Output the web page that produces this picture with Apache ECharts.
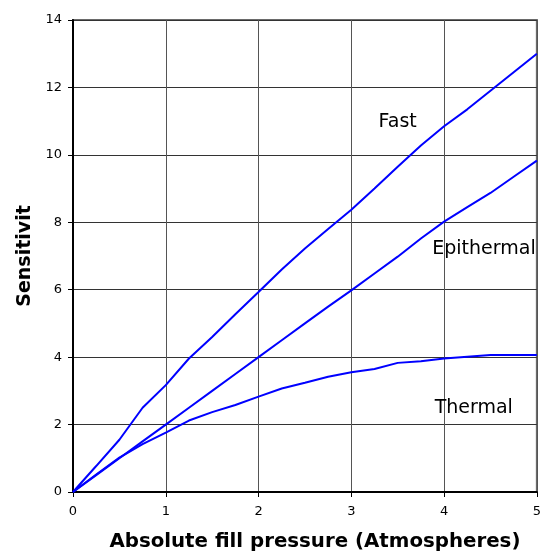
<!DOCTYPE html>
<html>
<head>
<meta charset="utf-8">
<script src="https://cdn.jsdelivr.net/npm/echarts@6/dist/echarts.min.js"></script>
<style>
  html, body { margin: 0; padding: 0; background: #fff; }
  #chart { width: 544px; height: 557px; }
</style>
</head>
<body>
<div id="chart"></div>
<script>
// fill pressure (atm)
const pressure = [0, 0.25, 0.5, 0.75, 1, 1.25, 1.5, 1.75, 2, 2.25, 2.5, 2.75, 3, 3.25, 3.5, 3.75, 4, 4.25, 4.5, 4.75, 5];
const fast = [0, 0.77, 1.55, 2.5, 3.17, 3.96, 4.6, 5.27, 5.93, 6.6, 7.22, 7.8, 8.37, 9.0, 9.65, 10.28, 10.85, 11.35, 11.9, 12.45, 13.0];
const epithermal = [0, 0.5, 1.0, 1.5, 2.0, 2.5, 3.0, 3.5, 4.0, 4.5, 5.0, 5.5, 5.98, 6.48, 6.98, 7.52, 8.02, 8.45, 8.87, 9.35, 9.83];
const thermal = [0, 0.52, 1.02, 1.42, 1.76, 2.12, 2.37, 2.58, 2.83, 3.07, 3.24, 3.42, 3.55, 3.65, 3.83, 3.88, 3.96, 4.01, 4.06, 4.06, 4.06];
const xTicks = [0, 1, 2, 3, 4, 5];
const yTicks = [0, 2, 4, 6, 8, 10, 12, 14];

const labelFont = "DejaVu Sans";

const toPairs = (ys) => pressure.map((x, i) => [x, ys[i]]);

// curve name placed next to its line, in data coords
const curveLabel = (text, coord) => ({
  markPoint: {
    silent: true,
    symbol: "circle",
    symbolSize: 0,
    animation: false,
    data: [{ coord: coord }],
    label: {
      show: true,
      position: "inside",
      formatter: text,
      color: "#000",
      fontFamily: labelFont,
      fontSize: 19,
    },
  },
});

const makeSeries = (name, ys, coord) => ({
  name: name,
  type: "line",
  data: toPairs(ys),
  showSymbol: false,
  symbol: "none",
  smooth: false,
  lineStyle: { color: "#0000ff", width: 2 },
  animation: false,
  ...curveLabel(name, coord),
});

const chart = echarts.init(document.getElementById("chart"));

chart.setOption({
  backgroundColor: "#fff",
  grid: {
    left: 73,
    right: 3,
    top: 20,
    bottom: 59,
    show: true,
    borderColor: "#6a6a6a",
    borderWidth: 2,
  },
  xAxis: {
    type: "value",
    min: xTicks[0],
    max: xTicks[xTicks.length - 1],
    interval: 1,
    name: "Absolute fill pressure (Atmospheres)",
    nameLocation: "middle",
    nameGap: 40,
    nameTextStyle: {
      fontFamily: labelFont,
      fontWeight: "bold",
      fontSize: 19.8,
      color: "#000",
      padding: [0, 0, 0, 20],
    },
    axisLine: { show: true, onZero: false, lineStyle: { color: "#000", width: 2 } },
    axisTick: { show: true, length: 5, lineStyle: { color: "#000", width: 1 } },
    axisLabel: { fontFamily: labelFont, fontSize: 13, color: "#000", margin: 13 },
    splitLine: { show: true, lineStyle: { color: "#555", width: 1 } },
  },
  yAxis: {
    type: "value",
    min: yTicks[0],
    max: yTicks[yTicks.length - 1],
    interval: 2,
    name: "Sensitivit",
    nameLocation: "middle",
    nameGap: 27,
    nameTextStyle: {
      fontFamily: labelFont,
      fontWeight: "bold",
      fontSize: 19,
      color: "#000",
    },
    axisLine: { show: true, onZero: false, lineStyle: { color: "#000", width: 2 } },
    axisTick: { show: true, length: 5, lineStyle: { color: "#000", width: 1 } },
    axisLabel: { fontFamily: labelFont, fontSize: 13, color: "#000", margin: 11 },
    splitLine: { show: true, lineStyle: { color: "#333", width: 1 } },
  },
  series: [
    makeSeries("Fast", fast, [3.5, 10.97]),
    makeSeries("Epithermal", epithermal, [4.43, 7.22]),
    makeSeries("Thermal", thermal, [4.32, 2.5]),
  ],
  animation: false,
});
</script>
</body>
</html>
